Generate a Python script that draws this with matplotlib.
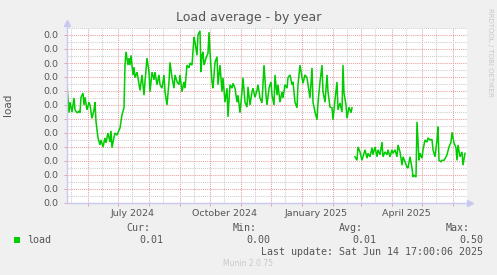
import datetime as dt
import matplotlib
matplotlib.use("Agg")
import matplotlib.pyplot as plt
import matplotlib.dates as mdates
from matplotlib.ticker import MultipleLocator, FuncFormatter
import numpy as np

# time window: munin "by year" graph = last 400 days
start = dt.datetime(2024, 5, 10, 17, 0)
end = dt.datetime(2025, 6, 14, 17, 0)

# day offsets from start, and daily load values
days_a = [0, 2, 3, 5, 7, 8, 10, 12, 13, 14, 16, 17, 18, 20, 22, 23, 25, 27, 28, 29,
          31, 33, 34, 36, 38, 39, 41, 43, 44, 45, 47, 48, 50, 52, 53, 55, 57, 58, 59, 61,
          62, 63, 64, 66, 67, 68, 70, 72, 73, 75, 77, 78, 80, 82, 83, 85, 87, 88, 90, 92,
          93, 95, 97, 98, 100, 102, 103, 105, 107, 108, 110, 112, 113, 115, 117, 118, 120, 122, 123, 125,
          127,
          128, 130, 131, 133, 134, 135, 136, 137, 139, 141, 142, 143, 145, 146, 148, 150, 151, 153, 155, 156,
          158, 160, 161, 163, 165, 166, 168, 170, 171, 173, 175, 176, 178, 180, 181, 183, 185, 186, 188, 190,
          191, 193, 195, 196, 197, 199, 200, 202, 204, 205, 207, 208, 210, 211, 213, 215, 216, 218, 220, 221,
          223, 225, 226, 228, 230, 231, 233, 235, 236, 238, 240, 241, 243, 245, 246, 248, 250, 251, 253, 255,
          256, 258, 260, 261,
          263, 265, 266, 268, 270, 271, 273, 275, 276, 277, 279, 280, 282, 284, 285]
load_a = [0.0169, 0.0129, 0.0144, 0.0130, 0.0150, 0.0133, 0.0129, 0.0131, 0.0129, 0.0151,
          0.0157, 0.0140, 0.0151, 0.0133, 0.0144, 0.0140, 0.0121, 0.0133, 0.0144, 0.0116,
          0.0093, 0.0083, 0.0090, 0.0080, 0.0093, 0.0086, 0.0100, 0.0087, 0.0103, 0.0079,
          0.0094, 0.0100, 0.0097, 0.0104, 0.0107, 0.0126, 0.0136, 0.0197, 0.0216, 0.0197,
          0.0207, 0.0197, 0.0211, 0.0183, 0.0194, 0.0179, 0.0187, 0.0169, 0.0161, 0.0183,
          0.0154, 0.0173, 0.0207, 0.0187, 0.0159, 0.0187, 0.0176, 0.0187, 0.0169, 0.0183,
          0.0169, 0.0164, 0.0183, 0.0159, 0.0140, 0.0173, 0.0201, 0.0179, 0.0164, 0.0183,
          0.0173, 0.0169, 0.0183, 0.0159, 0.0173, 0.0164, 0.0197, 0.0193, 0.0200, 0.0197,
          0.0237,
          0.0230, 0.0211, 0.0240, 0.0246, 0.0187, 0.0211, 0.0216, 0.0197, 0.0207, 0.0214,
          0.0244, 0.0216, 0.0173, 0.0164, 0.0201, 0.0209, 0.0169, 0.0197, 0.0159, 0.0179,
          0.0144, 0.0164, 0.0123, 0.0169, 0.0164, 0.0171, 0.0164, 0.0144, 0.0154, 0.0129,
          0.0159, 0.0179, 0.0144, 0.0137, 0.0166, 0.0140, 0.0159, 0.0164, 0.0151, 0.0161,
          0.0169, 0.0150, 0.0143, 0.0169, 0.0197, 0.0154, 0.0140, 0.0164, 0.0173, 0.0154,
          0.0140, 0.0183, 0.0154, 0.0169, 0.0144, 0.0159, 0.0150, 0.0169, 0.0164, 0.0179,
          0.0183, 0.0169, 0.0173, 0.0144, 0.0136, 0.0169, 0.0197, 0.0179, 0.0171, 0.0183,
          0.0179, 0.0169, 0.0150, 0.0193, 0.0144, 0.0130, 0.0119, 0.0143, 0.0173, 0.0197,
          0.0159, 0.0144, 0.0183, 0.0159,
          0.0137, 0.0136, 0.0119, 0.0147, 0.0173, 0.0133, 0.0143, 0.0130, 0.0197, 0.0157,
          0.0140, 0.0121, 0.0137, 0.0129, 0.0136]

# after a gap in the data
days_b = [288, 290, 291, 293, 295, 296, 298, 300, 301, 303, 305, 306, 308, 310, 311, 313, 315, 316, 318, 320,
          321, 323, 325, 326, 328, 330, 331, 333, 335, 336, 338, 340, 341, 343, 345, 346, 347, 349, 350, 352,
          353, 355, 356, 358, 360, 361, 363, 365, 366, 368, 370, 371, 372, 374, 375, 377, 379, 380, 382, 384,
          385, 387, 389, 390, 391, 393, 395, 396, 398]
load_b = [0.0066, 0.0061, 0.0080, 0.0073, 0.0061, 0.0066, 0.0076, 0.0064, 0.0071, 0.0066,
          0.0079, 0.0069, 0.0080, 0.0066, 0.0076, 0.0069, 0.0087, 0.0066, 0.0073, 0.0069,
          0.0076, 0.0066, 0.0076, 0.0071, 0.0076, 0.0066, 0.0083, 0.0073, 0.0054, 0.0066,
          0.0059, 0.0051, 0.0050, 0.0066, 0.0050, 0.0037, 0.0040, 0.0037, 0.0116, 0.0061,
          0.0071, 0.0064, 0.0076, 0.0090, 0.0087, 0.0093, 0.0090, 0.0091, 0.0076, 0.0066,
          0.0090, 0.0109, 0.0061, 0.0059, 0.0061, 0.0061, 0.0066, 0.0069, 0.0080, 0.0087,
          0.0101, 0.0086, 0.0079, 0.0061, 0.0083, 0.0066, 0.0073, 0.0054, 0.0071]

quarter_labels = {7: "July 2024", 10: "October 2024", 1: "January 2025", 4: "April 2025"}
legend_stats = [("Cur:", "0.01"), ("Min:", "0.00"), ("Avg:", "0.01"), ("Max:", "0.50")]
last_update = "Last update: Sat Jun 14 17:00:06 2025"

W, H = 497, 275
bg = "#f0f0f0"
txt = "#555555"
green = "#00cc00"
axis_col = "#c8c8f0"

fig = plt.figure(figsize=(W / 100, H / 100), dpi=100, facecolor=bg)
# plot area in pixels: x 67..467, y 28..203
ax = fig.add_axes([67 / W, 1 - 203 / H, 400 / W, 175 / H])
ax.set_facecolor("white")

x_a = [start + dt.timedelta(days=d) for d in days_a]
x_b = [start + dt.timedelta(days=d) for d in days_b]
ax.plot(x_a, load_a, color=green, lw=1.1, solid_joinstyle="miter", zorder=3)
ax.plot(x_b, load_b, color=green, lw=1.1, solid_joinstyle="miter", zorder=3)

ax.set_xlim(start, end)
ax.set_ylim(0, 0.025)

# grid
ax.xaxis.set_major_locator(mdates.MonthLocator(bymonthday=1))
ax.xaxis.set_minor_locator(mdates.MonthLocator(bymonthday=15))
ax.xaxis.set_major_formatter(FuncFormatter(lambda v, p: ""))
ax.xaxis.set_minor_formatter(FuncFormatter(
    lambda v, p: quarter_labels.get(mdates.num2date(v).month, "")))
ax.yaxis.set_major_locator(MultipleLocator(0.002))
ax.yaxis.set_minor_locator(MultipleLocator(0.001))
ax.yaxis.set_major_formatter(FuncFormatter(lambda v, p: f"{v:.1f}"))

ax.grid(which="major", color="#e8a0a0", linestyle=(0, (1, 1)), linewidth=0.75, zorder=1)
ax.grid(which="minor", color="#cccccc", linestyle=(0, (1, 1)), linewidth=0.75, zorder=0)
ax.set_axisbelow(True)

ax.tick_params(which="major", axis="both", length=2, width=0.7, color="#e8a0a0",
               labelsize=6.8, labelcolor=txt, pad=4)
ax.tick_params(which="minor", axis="both", length=0, labelsize=6.8, labelcolor=txt, pad=4)
ax.tick_params(which="minor", axis="x", pad=4)

for s in ["top", "right"]:
    ax.spines[s].set_visible(False)
ax.spines["left"].set_visible(False)
ax.spines["bottom"].set_visible(False)
# axis lines with arrows
ax.plot([0, 0], [0, 1.03], transform=ax.transAxes, color=axis_col, lw=1, clip_on=False, zorder=4)
ax.plot([0, 1.0075], [0, 0], transform=ax.transAxes, color=axis_col, lw=1, clip_on=False, zorder=4)
ax.plot(0, 1.03, marker="^", ms=4.5, color=axis_col, transform=ax.transAxes, clip_on=False, zorder=4)
ax.plot(1.0075, 0, marker=">", ms=4.5, color=axis_col, transform=ax.transAxes, clip_on=False, zorder=4)

# titles
fig.text(249 / W, 1 - 18 / H, "Load average - by year", ha="center", va="center",
         fontsize=9, color=txt)
fig.text(8 / W, 1 - 105 / H, "load", rotation=90, ha="center", va="center",
         fontsize=7.5, color=txt)
fig.text(490 / W, 1 - 52 / H, "RRDTOOL / TOBI OETIKER", rotation=270, ha="center", va="center",
         fontsize=5, color="#c8c8c8")

# legend
mono = "DejaVu Sans Mono"
fig.patches.append(plt.Rectangle((14 / W, 1 - 243 / H), 6 / W, 6 / H, transform=fig.transFigure,
                                 facecolor=green, edgecolor="none"))
fig.text(27 / W, 1 - 240 / H, "load", ha="left", va="center", fontsize=7.2, family=mono, color=txt)
head_right = [150, 257, 363, 470]
for (head, val), xr in zip(legend_stats, head_right):
    fig.text(xr / W, 1 - 228 / H, head, ha="right", va="center", fontsize=7.2, family=mono, color=txt)
    fig.text((xr + 13) / W, 1 - 240 / H, val, ha="right", va="center", fontsize=7.2, family=mono, color=txt)
fig.text(483 / W, 1 - 252 / H, last_update, ha="right", va="center", fontsize=7.2, family=mono, color=txt)
fig.text(248 / W, 1 - 264 / H, "Munin 2.0.75", ha="center", va="center", fontsize=5.5, color="#c8c8c8")

fig.savefig("out.png", dpi=100, facecolor=bg)
